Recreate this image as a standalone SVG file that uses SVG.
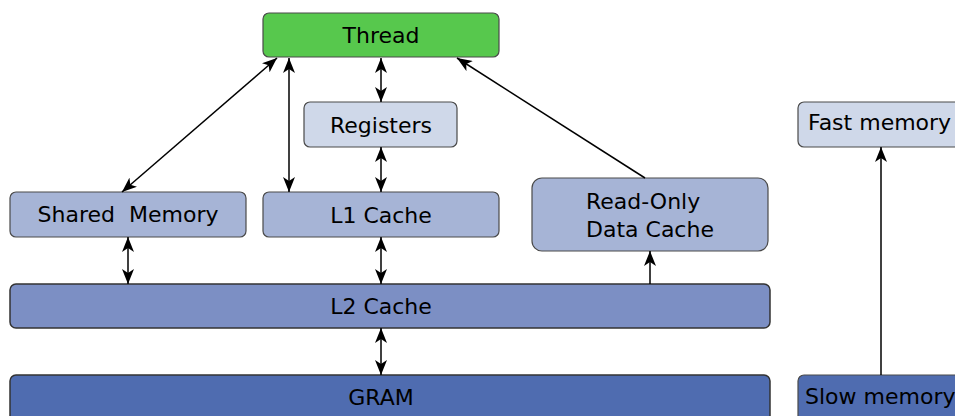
<svg xmlns="http://www.w3.org/2000/svg" width="955" height="416" viewBox="0 0 955 416">
<defs>
<marker id="ah" viewBox="0 0 15 12" refX="15" refY="6" markerWidth="15" markerHeight="12" markerUnits="userSpaceOnUse" orient="auto-start-reverse">
<path d="M0,0 L15,6 L0,12 L4,6 Z" fill="#000"/>
</marker>
<style>
rect{stroke:#4a4a4a;stroke-width:1.2}
text{font-family:"DejaVu Sans",sans-serif;font-size:22px;fill:#000;text-anchor:middle;white-space:pre}
.c line{stroke:#000;stroke-width:1.5;fill:none}
</style>
</defs>
<rect width="955" height="416" fill="#fff" style="stroke:none"/>
<g id="thread"><rect x="263" y="13" width="236" height="44" rx="6" fill="#57c84d"/><text x="381" y="43">Thread</text></g>
<g id="registers"><rect x="304" y="102" width="153" height="45" rx="6" fill="#cfd8e9"/><text x="381" y="133">Registers</text></g>
<g id="shared"><rect x="10" y="192" width="236" height="45" rx="6" fill="#a6b4d6"/><text x="128" y="222">Shared  Memory</text></g>
<g id="l1"><rect x="263" y="192" width="236" height="45" rx="6" fill="#a6b4d6"/><text x="381" y="223">L1 Cache</text></g>
<g id="rodc"><rect x="532" y="178" width="236" height="73" rx="10" fill="#a6b4d6"/><text x="586" y="209" style="text-anchor:start">Read-Only</text><text x="586" y="237" style="text-anchor:start">Data Cache</text></g>
<g id="l2"><rect x="10" y="284" width="760" height="44" rx="6" fill="#7c8fc4" style="stroke:#333;stroke-width:1.5"/><text x="381" y="314">L2 Cache</text></g>
<g id="gram"><rect x="10" y="375" width="760" height="50" rx="6" fill="#4f6cb0" style="stroke:#333;stroke-width:1.5"/><text x="381" y="405">GRAM</text></g>
<g id="fast"><rect x="798" y="102" width="170" height="45" rx="6" fill="#cfd8e9"/><text x="808" y="130" style="text-anchor:start">Fast memory</text></g>
<g id="slow"><rect x="798" y="375" width="170" height="50" rx="6" fill="#4f6cb0"/><text x="805" y="404" style="text-anchor:start">Slow memory</text></g>
<g class="c" id="connectors">
<line x1="277" y1="58" x2="122" y2="192" marker-start="url(#ah)" marker-end="url(#ah)"/>
<line x1="289" y1="58" x2="289" y2="192" marker-start="url(#ah)" marker-end="url(#ah)"/>
<line x1="381" y1="58" x2="381" y2="102" marker-start="url(#ah)" marker-end="url(#ah)"/>
<line x1="381" y1="147" x2="381" y2="192" marker-start="url(#ah)" marker-end="url(#ah)"/>
<line x1="381" y1="237" x2="381" y2="284" marker-start="url(#ah)" marker-end="url(#ah)"/>
<line x1="128" y1="237" x2="128" y2="284" marker-start="url(#ah)" marker-end="url(#ah)"/>
<line x1="381" y1="328" x2="381" y2="375" marker-start="url(#ah)" marker-end="url(#ah)"/>
<line x1="645" y1="178" x2="457" y2="58" marker-end="url(#ah)"/>
<line x1="650" y1="284" x2="650" y2="251" marker-end="url(#ah)"/>
<line x1="881" y1="375" x2="881" y2="147" marker-end="url(#ah)"/>
</g>
</svg>
